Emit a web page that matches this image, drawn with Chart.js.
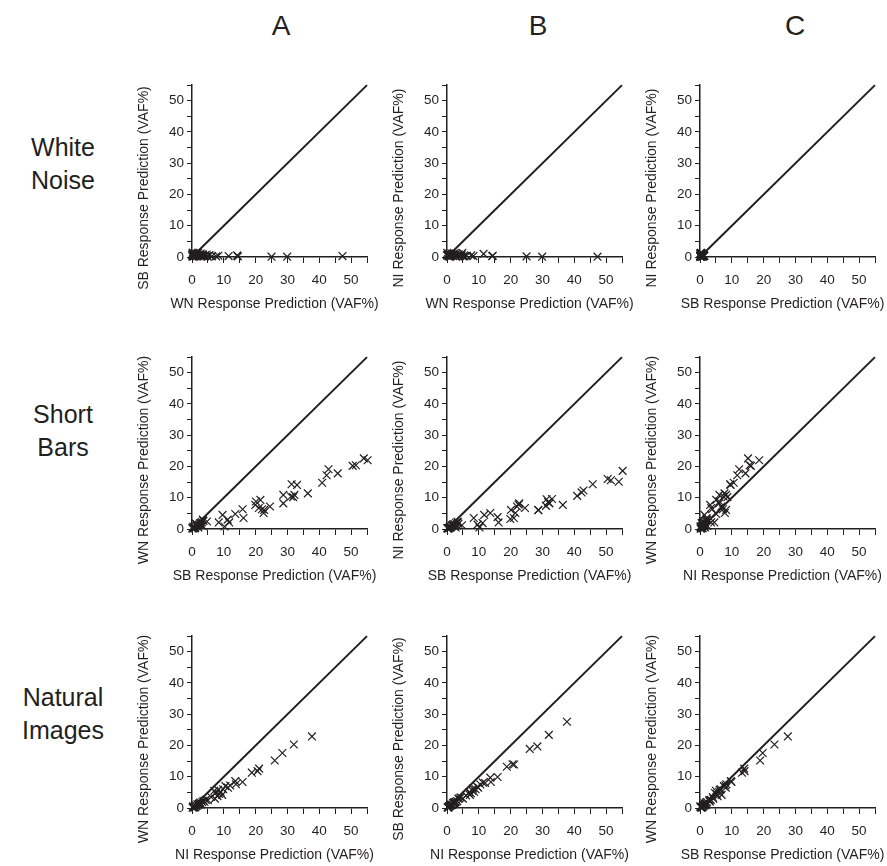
<!DOCTYPE html>
<html>
<head>
<meta charset="utf-8">
<script src="https://cdn.jsdelivr.net/npm/chart.js@4.4.1/dist/chart.umd.min.js"></script>
<style>
  body { margin: 0; background: #fff; }
  #wrap { position: relative; width: 887px; height: 866px; font-family: "Liberation Sans", Arial, sans-serif; color: #231f20; }
  .panel { position: absolute; }
  .col { position: absolute; top: 10px; width: 40px; margin-left: -20px; text-align: center; font-size: 28px; line-height: 32px; }
  .row { position: absolute; left: 0; width: 126px; text-align: center; font-size: 25px; line-height: 33px; }
</style>
</head>
<body>
<div id="wrap">
  <div class="col" style="left:281px">A</div>
  <div class="col" style="left:538px">B</div>
  <div class="col" style="left:795px">C</div>
  <div class="row" style="top:131px">White<br>Noise</div>
  <div class="row" style="top:398px">Short<br>Bars</div>
  <div class="row" style="top:681px">Natural<br>Images</div>
</div>
<script>
const INK = '#231f20';
const FONT = '"Liberation Sans", Arial, sans-serif';
const AXIS_MAX = 55;

// responses to white noise, predicted by WN / SB / NI models (VAF%)
const wnStimWN = [47.3, 29.9, 25.0, 14.4, 14.2, 11.5, 8.3, 7.6, 6.2, 5.5, 4.8, 4.6, 4.1, 3.7, 3.3, 3.0, 2.7, 2.4, 2.1, 1.9,
                  1.6, 1.4, 1.2, 1.0, 0.8, 0.6, 0.5, 0.3, 0.2, 0.1, 0.0, 0.4, 0.9, 1.5, 2.2, 2.9, 3.5, 5.0, 0.7, 0.2];
const wnStimSB = [0.3, 0.1, 0.1, 0.2, 0.5, 0.3, 0.4, 0.2, 0.2, 0.6, 0.3, 0.8, 0.5, 0.2, 0.9, 0.4, 1.1, 0.6, 0.3, 1.3,
                  0.8, 0.2, 1.0, 0.5, 1.2, 0.3, 0.9, 0.6, 1.4, 0.2, 0.7, 0.1, 0.4, 1.0, 0.7, 0.2, 0.5, 0.1, 0.8, 1.1];
const wnStimNI = [0.1, 0.1, 0.2, 0.4, 0.3, 1.0, 0.3, 0.5, 0.4, 0.2, 1.3, 0.6, 0.3, 0.8, 0.5, 1.1, 0.2, 0.7, 0.9, 0.4,
                  0.6, 1.2, 0.3, 0.8, 0.5, 1.0, 0.2, 0.7, 0.4, 1.3, 0.6, 0.9, 0.1, 0.5, 1.1, 0.3, 0.8, 0.2, 0.4, 0.6];

// responses to short bars
const sbStimSB = [55.2, 54.0, 51.5, 50.5, 45.8, 42.9, 42.3, 40.9, 36.4, 33.0, 31.3, 32.2, 31.1, 31.8, 28.7, 28.7, 24.5,
                  22.7, 22.5, 22.0, 21.5, 20.1, 19.9, 21.0, 15.9, 16.2, 13.6, 11.7, 11.2, 10.2, 9.6, 8.4, 4.7, 3.4,
                  0.2, 0.5, 0.8, 1.0, 1.3, 1.6, 1.9, 2.2, 2.5, 2.8, 3.1, 3.6, 0.4, 0.9, 1.5, 2.0, 2.7, 3.3, 0.1, 1.2];
const sbStimWN = [22.0, 22.6, 20.4, 20.2, 17.8, 19.1, 17.2, 14.8, 11.4, 14.1, 14.3, 10.9, 10.4, 10.2, 10.9, 8.2, 7.2,
                  6.1, 5.1, 6.3, 9.3, 8.8, 7.7, 6.7, 6.3, 3.5, 4.8, 2.1, 3.0, 0.8, 4.5, 2.1, 2.4, 3.0,
                  0.1, 0.3, 0.6, 0.4, 0.9, 1.1, 0.7, 1.4, 1.8, 1.2, 2.2, 2.6, 0.8, 0.2, 1.5, 0.5, 2.0, 1.0, 0.4, 1.7];
const sbStimNI = [18.6, 15.1, 15.6, 16.0, 14.3, 12.3, 11.7, 10.6, 7.7, 9.6, 9.5, 8.2, 7.4, 8.6, 6.1, 6.0, 6.7,
                  8.2, 7.8, 7.2, 5.1, 6.1, 3.2, 3.5, 3.8, 2.1, 5.1, 4.5, 1.9, 0.5, 1.4, 3.5, 1.2, 2.2,
                  0.2, 0.4, 0.3, 0.7, 0.6, 1.0, 1.3, 0.9, 1.5, 2.0, 1.1, 1.7, 0.1, 0.8, 1.2, 1.6, 0.5, 2.3, 0.3, 0.6];

// responses to natural images
const niStimNI = [37.7, 32.0, 28.4, 26.0, 21.1, 20.6, 18.8, 15.9, 13.6, 13.8, 11.3, 10.5, 9.8, 9.0, 8.5, 8.0, 7.5, 7.2,
                  8.2, 7.0, 6.0, 5.0, 12.0, 9.5,
                  0.2, 0.5, 0.8, 1.1, 1.4, 1.7, 2.0, 2.4, 2.8, 3.2, 3.6, 0.3, 1.0, 1.9, 2.6, 3.9, 4.3, 0.6, 1.3, 2.2];
const niStimWN = [22.9, 20.3, 17.6, 15.2, 12.6, 11.8, 11.3, 8.3, 8.6, 7.6, 6.5, 7.0, 6.0, 5.2, 4.5, 3.8, 4.8, 3.0,
                  5.8, 5.5, 3.5, 2.5, 7.2, 4.2,
                  0.1, 0.4, 0.3, 0.8, 0.6, 1.2, 0.9, 1.5, 1.1, 1.9, 2.3, 0.5, 0.2, 1.0, 1.7, 2.0, 2.6, 0.2, 0.7, 1.3];
const niStimSB = [27.6, 23.4, 19.7, 18.9, 13.9, 14.0, 13.2, 9.9, 9.7, 8.3, 8.1, 7.5, 6.5, 6.0, 5.2, 5.5, 4.7, 4.2,
                  6.2, 5.0, 4.0, 3.0, 8.0, 6.8,
                  0.3, 0.2, 0.6, 0.9, 1.1, 1.0, 1.6, 1.4, 2.0, 2.2, 2.9, 0.1, 0.8, 1.5, 1.9, 3.1, 3.4, 0.5, 0.9, 1.8];

const WN = 'WN Response Prediction (VAF%)';
const SB = 'SB Response Prediction (VAF%)';
const NI = 'NI Response Prediction (VAF%)';

const panels = [
  [ {x: wnStimWN, y: wnStimSB, xt: WN, yt: SB}, {x: wnStimWN, y: wnStimNI, xt: WN, yt: NI}, {x: wnStimSB, y: wnStimNI, xt: SB, yt: NI} ],
  [ {x: sbStimSB, y: sbStimWN, xt: SB, yt: WN}, {x: sbStimSB, y: sbStimNI, xt: SB, yt: NI}, {x: sbStimNI, y: sbStimWN, xt: NI, yt: WN} ],
  [ {x: niStimNI, y: niStimWN, xt: NI, yt: WN}, {x: niStimNI, y: niStimSB, xt: NI, yt: SB}, {x: niStimSB, y: niStimWN, xt: SB, yt: WN} ],
];

// layout: canvas origin per column / row, chart area sits 60px in and 10px down
const colLeft = [132, 387, 640];
const rowTop = [74, 346, 625];
const CW = 247, CH = 243;

const axisTitles = {
  id: 'axisTitles',
  afterDraw(chart, args, opts) {
    const { ctx, chartArea: a } = chart;
    ctx.save();
    ctx.fillStyle = INK;
    ctx.font = '14px ' + FONT;
    ctx.textAlign = 'center';
    ctx.textBaseline = 'middle';
    ctx.fillText(opts.x, (a.left + a.right) / 2 - 5, a.bottom + 47);
    ctx.translate(a.left - 48, (a.top + a.bottom) / 2 + 17);
    ctx.rotate(-Math.PI / 2);
    ctx.fillText(opts.y, 0, 0);
    ctx.restore();
  }
};

function axis(horizontal) {
  return {
    type: 'linear',
    min: 0,
    max: AXIS_MAX,
    grid: { drawOnChartArea: false, drawTicks: true, tickLength: horizontal ? 6 : 5, color: INK, tickColor: INK, tickWidth: 1 },
    border: { display: true, color: INK, width: 1.5 },
    ticks: {
      stepSize: 5, autoSkip: false, maxRotation: 0, color: INK,
      padding: horizontal ? 9 : 3,
      font: { size: 13.5, family: FONT },
      callback: v => (v % 10 === 0 ? v : ''),
    },
    afterFit: s => { if (horizontal) s.height = 60; else s.width = 60; },
  };
}

const wrap = document.getElementById('wrap');
panels.forEach((row, r) => row.forEach((p, c) => {
  const cv = document.createElement('canvas');
  cv.className = 'panel';
  cv.width = CW; cv.height = CH;
  cv.style.left = colLeft[c] + 'px';
  cv.style.top = rowTop[r] + 'px';
  wrap.appendChild(cv);

  new Chart(cv, {
    type: 'scatter',
    data: {
      datasets: [
        {
          data: p.x.map((v, i) => ({ x: v, y: p.y[i] })),
          pointStyle: 'crossRot',
          pointRadius: 5.5,
          pointBorderWidth: 1.2,
          borderColor: INK,
          backgroundColor: INK,
          clip: false,
        },
        {
          data: [{ x: 0, y: 0 }, { x: AXIS_MAX, y: AXIS_MAX }],
          showLine: true,
          pointRadius: 0,
          borderColor: INK,
          borderWidth: 2,
          clip: false,
        },
      ],
    },
    options: {
      responsive: false,
      animation: false,
      layout: { padding: { left: 0, top: 10, right: 12, bottom: 0 } },
      scales: { x: axis(true), y: axis(false) },
      plugins: {
        legend: { display: false },
        tooltip: { enabled: false },
        axisTitles: { x: p.xt, y: p.yt },
      },
    },
    plugins: [axisTitles],
  });
}));
</script>
</body>
</html>
